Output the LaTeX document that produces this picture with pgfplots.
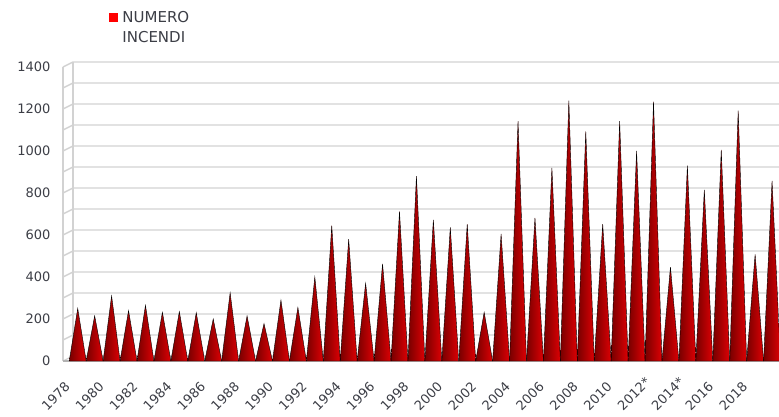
\documentclass[border=0pt]{standalone}
\usepackage{fontspec}
\setmainfont{DejaVu Sans}
\usepackage{pgfplots}
\usepackage{pgfplotstable}
\pgfplotsset{compat=1.18}

\definecolor{gridgray}{RGB}{210,210,210}
\definecolor{txtgray}{RGB}{60,62,70}
\definecolor{coneL}{RGB}{120,0,0}
\definecolor{coneM}{RGB}{242,0,10}
\definecolor{coneR}{RGB}{222,0,4}

% x = anno - 1978
\pgfplotstableread{
x v
0 250
1 215
2 310
3 240
4 265
5 232
6 235
7 230
8 200
9 325
10 215
11 178
12 290
13 255
14 400
15 645
16 580
17 370
18 462
19 712
20 880
21 672
22 636
23 652
24 232
25 605
26 1142
27 682
28 920
29 1240
30 1093
31 652
32 1142
33 1000
34 1235
35 447
36 930
37 815
38 1005
39 1192
40 508
41 858
}\incendi

\begin{document}
\begin{tikzpicture}
\begin{axis}[
    at={(0,0)}, anchor=south west,
    scale only axis,
    width=716pt, height=294pt,
    xmin=-0.87, xmax=41.41,
    ymin=0, ymax=1400,
    axis line style={draw=none},
    major tick length=0pt,
    ytick={0,200,...,1400},
    xtick={0,2,...,40},
    xticklabels={1978,1980,1982,1984,1986,1988,1990,1992,1994,1996,1998,2000,2002,2004,2006,2008,2010,2012\rlap{*},2014\rlap{*},2016,2018},
    /pgf/number format/assume math mode=true,
    /pgf/number format/1000 sep={},
    ticklabel style={font=\fontsize{13}{15}\selectfont, text=txtgray},
    yticklabel style={xshift=-9pt},
    xticklabel style={rotate=45, anchor=north east, inner sep=1pt, xshift=-22.8pt, yshift=-3.3pt},
    clip=false,
    legend style={at={(0,1)}, anchor=north west, xshift=43pt, yshift=60pt,
        draw=none, fill=none, font=\fontsize{15}{20}\selectfont, text=txtgray,
        cells={align=left, anchor=west}},
    legend image code/.code={\path[draw=none, fill=none] (0pt,0pt) rectangle (11pt,1pt);
        \fill[red] (0pt,6pt) rectangle (8pt,14pt);},
]
% pareti e griglia
\pgfplotsinvokeforeach{100,200,...,1400}{
  \draw[gridgray, line width=1.4pt] (axis cs:-0.87,#1) -- ([shift={(10pt,5pt)}]axis cs:-0.87,#1) -- ([yshift=5pt]axis cs:41.5,#1);
}
\draw[gridgray, line width=1.2pt] (axis cs:-0.87,0) -- (axis cs:-0.87,1400);
\draw[gridgray, line width=1.2pt] ([shift={(10pt,5pt)}]axis cs:-0.87,0) -- ([shift={(10pt,5pt)}]axis cs:-0.87,1400);
\draw[gridgray, line width=1.2pt] ([shift={(10pt,5pt)}]axis cs:-0.87,0) -- ([yshift=5pt]axis cs:41.5,0);
\draw[gridgray, line width=1.2pt] (axis cs:-0.87,0) -- ([shift={(10pt,5pt)}]axis cs:-0.87,0);

\addplot[
    only marks, mark=*, mark size=0.1pt,
    scatter,
    visualization depends on={\thisrow{v} \as \ry},
    scatter/@pre marker code/.code={%
        \shade[left color=coneL, middle color=coneM, right color=coneR]
            (axis direction cs:-0.5,-\ry) -- (axis direction cs:0,0) -- (axis direction cs:0.5,-\ry) -- cycle;
        \begin{scope}[opacity=0]},
    scatter/@post marker code/.code={\end{scope}},
] table[x=x, y=v] {\incendi};
\addlegendentry{NUMERO\\INCENDI}

\draw[gray!60, line width=1.2pt] (axis cs:-0.87,0) -- (axis cs:41.5,0);
\end{axis}
\pgfresetboundingbox
\path (-63pt,-55pt) rectangle (716pt,361pt);
\end{tikzpicture}
\end{document}
